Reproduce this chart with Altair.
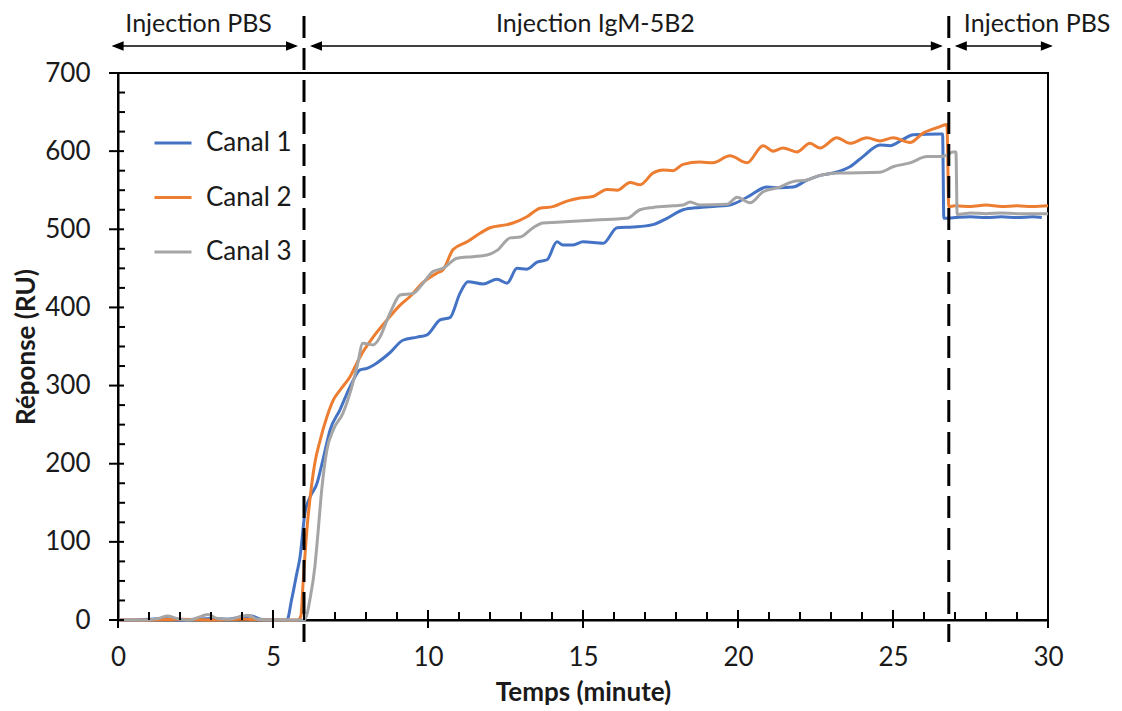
import altair as alt
import pandas as pd

# ---------------- data ----------------
series = ["Canal 1", "Canal 2", "Canal 3"]
colors = ["#4472C4", "#ED7D31", "#A5A5A5"]

t1 = [0, 0.5, 1.0, 1.5, 2.0, 2.5, 3.0, 3.5, 4.0, 4.3, 4.6, 5.0, 5.45, 5.6, 5.77,
      5.87, 6.03, 6.19, 6.42, 6.61, 6.84, 7.16, 7.48, 7.81, 8.03, 8.35, 8.77, 9.19,
      9.65, 9.97, 10.39, 10.71, 11.03, 11.29, 11.77, 12.23, 12.55, 12.87, 13.19,
      13.52, 13.84, 14.16, 14.35, 14.68, 15.0, 15.65, 16.1, 16.61, 17.26, 17.71,
      18.23, 18.77, 19.74, 20.29, 20.94, 21.35, 21.77, 22.23, 22.65, 23.06, 23.61,
      24.03, 24.58, 24.9, 25.32, 25.65, 26.52, 26.6, 26.64, 27.0, 27.5, 28.0, 28.5,
      29.0, 29.5, 29.8]
v1 = [0, 0, 1, 2, 0, 1, 2, 1, 4, 5, 1, 0, 0, 26, 60,
      80, 137, 157, 175, 205, 243, 269, 298, 320, 322, 329, 342, 358,
      362, 365, 384, 387, 418, 433, 430, 436, 431, 450, 449,
      458, 461, 484, 480, 480, 484, 482, 502, 503, 506, 514,
      525, 528, 531, 541, 554, 553, 554, 563, 569, 572, 580,
      593, 608, 607, 615, 621, 622, 622, 514, 515, 516, 515, 516,
      515, 516, 515]

t2 = [0, 1, 2, 3, 4, 5, 5.8, 5.9, 5.97, 6.1, 6.19, 6.35, 6.52, 6.74, 6.94, 7.16,
      7.48, 7.81, 8.23, 8.68, 9.1, 9.42, 9.84, 10.29, 10.48, 10.81, 11.26, 11.68,
      12.0, 12.55, 12.74, 13.19, 13.61, 14.03, 14.48, 14.9, 15.32, 15.77, 16.1,
      16.52, 16.84, 17.26, 17.58, 17.9, 18.23, 18.77, 19.19, 19.74, 20.29, 20.81,
      21.13, 21.45, 21.9, 22.32, 22.65, 23.19, 23.61, 24.16, 24.58, 25.0, 25.55,
      25.97, 26.42, 26.74, 26.8, 27.0, 27.5, 28.0, 28.5, 29.0, 29.5, 30.0]
v2 = [0, 0, 1, 0, 1, 0, 0, 5, 47, 119, 154, 201, 230, 260, 281, 294,
      311, 337, 362, 384, 403, 414, 432, 444, 448, 474, 484, 495,
      502, 506, 508, 516, 527, 529, 536, 540, 542, 551, 550,
      560, 557, 572, 576, 575, 583, 586, 585, 594, 585, 607,
      600, 604, 599, 610, 604, 617, 610, 617, 613, 617, 611,
      623, 630, 634, 529, 530, 529, 531, 529, 530, 529, 530]

t3 = [0, 1.0, 1.3, 1.6, 1.9, 2.3, 2.7, 2.9, 3.2, 3.6, 4.0, 4.2, 4.5, 5.0, 6.0,
      6.1, 6.19, 6.35, 6.45, 6.58, 6.74, 6.94, 7.26, 7.48, 7.71, 7.9, 8.23, 8.45,
      8.68, 8.87, 9.1, 9.52, 9.84, 10.16, 10.48, 10.94, 11.45, 11.9, 12.23, 12.65,
      12.97, 13.39, 13.71, 14.16, 15.0, 15.97, 16.42, 16.84, 17.26, 17.9, 18.23,
      18.45, 18.77, 19.65, 19.97, 20.39, 20.81, 21.35, 21.77, 22.23, 22.65, 23.29,
      24.58, 25.0, 25.55, 26.1, 26.52, 26.74, 26.94, 27.03, 27.07, 27.5, 28.0,
      28.5, 29.0, 29.5, 30.0]
v3 = [0, 0, 2, 5, 2, 0, 5, 7, 2, 1, 5, 6, 1, 0, 0,
      8, 26, 68, 111, 170, 218, 243, 265, 290, 324, 354, 352, 362,
      384, 401, 416, 418, 431, 446, 450, 463, 465, 467, 473, 489,
      490, 502, 508, 509, 511, 513, 514, 525, 528, 530, 531,
      535, 531, 532, 541, 534, 548, 554, 561, 563, 569, 572,
      573, 580, 585, 593, 593, 595, 599, 599, 519, 521, 520,
      521, 520, 520, 520]

# injection phases (minutes)
phase_labels = ["Injection PBS", "Injection IgM-5B2", "Injection PBS"]
phase_start = [-0.4, 6.0, 26.8]
phase_end = [6.0, 26.8, 30.35]
phase_label_t = [2.6, 15.4, 29.65]
boundaries = [6.0, 26.8]

x_major = [0, 5, 10, 15, 20, 25, 30]
x_minor = [m for m in range(0, 31) if m % 5 != 0]
y_major = [0, 100, 200, 300, 400, 500, 600, 700]
y_minor = [v for v in range(0, 701, 25) if v % 100 != 0]

# ---------------- chart ----------------
FONT = "Lato"
W, H = 930, 547
TXT = "#1a1a1a"

rows = []
for name, ts, vs in zip(series, [t1, t2, t3], [v1, v2, v3]):
    for t, v in zip(ts, vs):
        rows.append({"Temps": t, "Reponse": v, "Canal": name})
curves = pd.DataFrame(rows)

xs = alt.Scale(domain=[0, 30], nice=False, zero=False)
ys = alt.Scale(domain=[0, 700], nice=False)

x_axis = alt.Axis(values=x_major, title="Temps (minute)", ticks=False, tickSize=0,
                  grid=False, domainColor="black", domainWidth=2,
                  labelFont=FONT, labelFontSize=26, labelColor=TXT, labelPadding=24,
                  titleFont=FONT, titleFontSize=26, titleFontWeight="bold",
                  titleColor=TXT, titlePadding=9, labelFlush=False)
y_axis = alt.Axis(values=y_major, title="Réponse (RU)", ticks=False, tickSize=0,
                  grid=False, domainColor="black", domainWidth=2,
                  labelFont=FONT, labelFontSize=26, labelColor=TXT, labelPadding=28,
                  titleFont=FONT, titleFontSize=26, titleFontWeight="bold",
                  titleColor=TXT, titlePadding=5, labelFlush=False)

lines = alt.Chart(curves).mark_line(strokeWidth=3, interpolate="monotone").encode(
    x=alt.X("Temps:Q", scale=xs, axis=x_axis),
    y=alt.Y("Reponse:Q", scale=ys, axis=y_axis),
    color=alt.Color("Canal:N", scale=alt.Scale(domain=series, range=colors),
                    legend=alt.Legend(orient="none", legendX=35, legendY=50, title=None,
                                      symbolType="stroke", symbolSize=1369,
                                      symbolStrokeWidth=3, labelFont=FONT,
                                      labelFontSize=26, labelColor=TXT,
                                      labelOffset=13, rowPadding=21.5, padding=0)),
)

# tick marks
xmaj = alt.Chart(pd.DataFrame({"Temps": x_major})).mark_rule(color="black", strokeWidth=2).encode(
    x=alt.X("Temps:Q", scale=xs), y=alt.value(H + 8), y2=alt.value(H - 10))
xmin = alt.Chart(pd.DataFrame({"Temps": x_minor})).mark_rule(color="black", strokeWidth=2).encode(
    x=alt.X("Temps:Q", scale=xs), y=alt.value(H), y2=alt.value(H - 8))
ymaj = alt.Chart(pd.DataFrame({"Reponse": y_major})).mark_rule(color="black", strokeWidth=2).encode(
    y=alt.Y("Reponse:Q", scale=ys), x=alt.value(-9), x2=alt.value(6))
ymin = alt.Chart(pd.DataFrame({"Reponse": y_minor})).mark_rule(color="black", strokeWidth=2).encode(
    y=alt.Y("Reponse:Q", scale=ys), x=alt.value(0), x2=alt.value(7))

# phase boundaries (dashed)
dash = alt.Chart(pd.DataFrame({"Temps": boundaries})).mark_rule(
    color="black", strokeWidth=3, strokeDash=[22, 10]).encode(
    x=alt.X("Temps:Q", scale=xs), y=alt.value(-57), y2=alt.value(H + 22))

# phase arrows
phases = pd.DataFrame({"label": phase_labels, "Temps": phase_start, "fin": phase_end,
                       "centre": phase_label_t})
AY = -27
arrow_line = alt.Chart(phases).mark_rule(color="black", strokeWidth=1.5,
                                         xOffset=8, x2Offset=-8).encode(
    x=alt.X("Temps:Q", scale=xs), x2="fin:Q", y=alt.value(AY))
head_l = alt.Chart(phases).mark_point(shape="M0,0L2,-0.8L2,0.8Z", size=144, filled=True,
                                      color="black", opacity=1, strokeWidth=0, xOffset=6).encode(
    x=alt.X("Temps:Q", scale=xs), y=alt.value(AY))
head_r = alt.Chart(phases).mark_point(shape="M0,0L-2,-0.8L-2,0.8Z", size=144, filled=True,
                                      color="black", opacity=1, strokeWidth=0, xOffset=-6).encode(
    x=alt.X("fin:Q", scale=xs), y=alt.value(AY))
labels = alt.Chart(phases).mark_text(font=FONT, fontSize=25, color=TXT, baseline="middle",
                                     align="center").encode(
    x=alt.X("centre:Q", scale=xs), y=alt.value(-49), text="label:N")

chart = alt.layer(lines, xmaj, xmin, ymaj, ymin, dash, arrow_line, head_l, head_r, labels).properties(
    width=W, height=H,
    autosize=alt.AutoSizeParams(type="none"),
    padding={"left": 110, "top": 65, "right": 65, "bottom": 96},
    background="white",
).configure_view(stroke="black", strokeWidth=2)

chart.save("out.html", embed_options={"renderer": "svg", "actions": False})
